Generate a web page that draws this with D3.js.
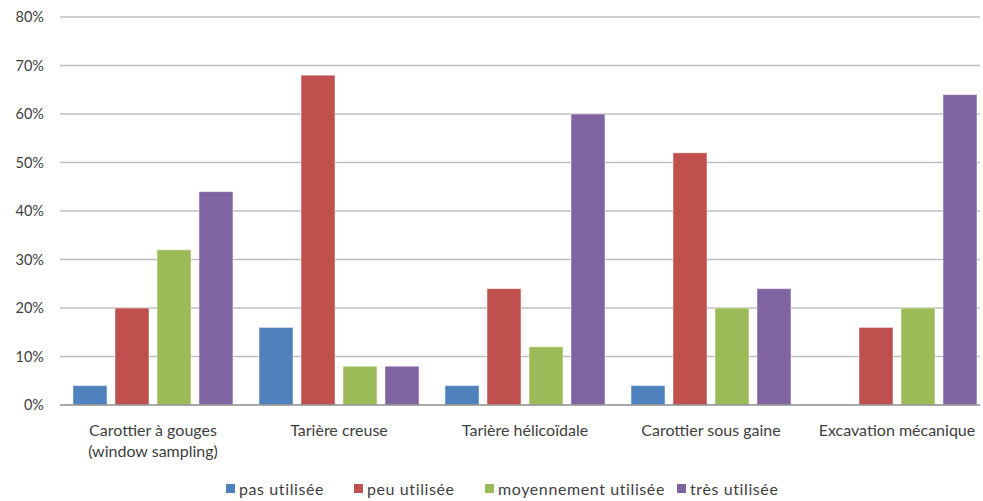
<!DOCTYPE html>
<html>
<head>
<meta charset="utf-8">
<script src="https://cdn.jsdelivr.net/npm/d3@7"></script>
<style>
  body { margin: 0; background: #fff; }
  svg text { font-family: Lato, "Open Sans", sans-serif; fill: #404040; }
</style>
</head>
<body>
<svg id="chart" width="983" height="501"></svg>
<script>
// Survey of how often each sampling tool is used
const categories = [
  ["Carottier à gouges", "(window sampling)"],
  ["Tarière creuse"],
  ["Tarière hélicoïdale"],
  ["Carottier sous gaine"],
  ["Excavation mécanique"]
];
const seriesNames = ["pas utilisée", "peu utilisée", "moyennement utilisée", "très utilisée"];
const seriesColors = ["#4F81BD", "#C0504D", "#9BBB59", "#8064A2"];
const pasUtilisee = [4, 16, 4, 4, 0];
const peuUtilisee = [20, 68, 24, 52, 16];
const moyennementUtilisee = [32, 8, 12, 20, 20];
const tresUtilisee = [44, 8, 60, 24, 64];
const yTicks = [0, 10, 20, 30, 40, 50, 60, 70, 80];

const seriesValues = [pasUtilisee, peuUtilisee, moyennementUtilisee, tresUtilisee];

const svg = d3.select("#chart");
const plotLeft = 60, plotRight = 990, gridRight = 980, plotTop = 17, plotBottom = 405;

const x0 = d3.scaleBand()
  .domain(d3.range(categories.length))
  .range([plotLeft, plotRight]);
const x1 = d3.scaleBand()
  .domain(d3.range(seriesNames.length))
  .range([13, x0.bandwidth() - 13])
  .paddingInner(0.19);
const y = d3.scaleLinear().domain([0, 80]).range([plotBottom, plotTop]);

// horizontal grid
svg.append("g")
  .selectAll("line")
  .data(yTicks.filter(t => t > 0))
  .join("line")
  .attr("x1", plotLeft).attr("x2", gridRight)
  .attr("y1", d => y(d)).attr("y2", d => y(d))
  .attr("stroke", "#BEBEBE").attr("stroke-width", 1.3);

// y labels
const yAxis = d3.axisLeft(y).tickValues(yTicks).tickFormat(d => d + "%").tickSize(0).tickPadding(16);
const ya = svg.append("g").attr("transform", `translate(${plotLeft},0)`).call(yAxis);
ya.select(".domain").remove();
ya.selectAll("text").style("font-size", "14.5px").attr("fill", "#404040");

// bars
const groups = svg.append("g").selectAll("g")
  .data(categories.map((c, i) => i))
  .join("g")
  .attr("transform", i => `translate(${x0(i)},0)`);
groups.selectAll("rect")
  .data(i => seriesValues.map((s, k) => ({ k, v: s[i] })).filter(d => d.v > 0))
  .join("rect")
  .attr("x", d => x1(d.k))
  .attr("width", x1.bandwidth())
  .attr("y", d => y(d.v))
  .attr("height", d => y(0) - y(d.v))
  .attr("fill", d => seriesColors[d.k])
  .attr("stroke", "#ffffff").attr("stroke-opacity", 0.5).attr("stroke-width", 1);

// baseline
svg.append("line")
  .attr("x1", plotLeft).attr("x2", gridRight)
  .attr("y1", y(0)).attr("y2", y(0))
  .attr("stroke", "#8C8C8C").attr("stroke-width", 1.3);

// category labels
const xl = svg.append("g");
categories.forEach((lines, i) => {
  const cx = x0(i) + x0.bandwidth() / 2;
  const t = xl.append("text")
    .attr("x", cx)
    .attr("y", 436)
    .attr("text-anchor", "middle")
    .style("font-size", "16px");
  lines.forEach((l, j) => t.append("tspan")
    .attr("x", cx)
    .attr("dy", j === 0 ? 0 : 21)
    .text(l));
});

// legend
const legendX = [226, 354, 485, 677];
const lg = svg.append("g");
seriesNames.forEach((n, k) => {
  lg.append("rect").attr("x", legendX[k]).attr("y", 484).attr("width", 9).attr("height", 9).attr("fill", seriesColors[k]);
  lg.append("text").attr("x", legendX[k] + 13).attr("y", 495).style("font-size", "16px").style("letter-spacing", "0.6px").text(n);
});
</script>
</body>
</html>
